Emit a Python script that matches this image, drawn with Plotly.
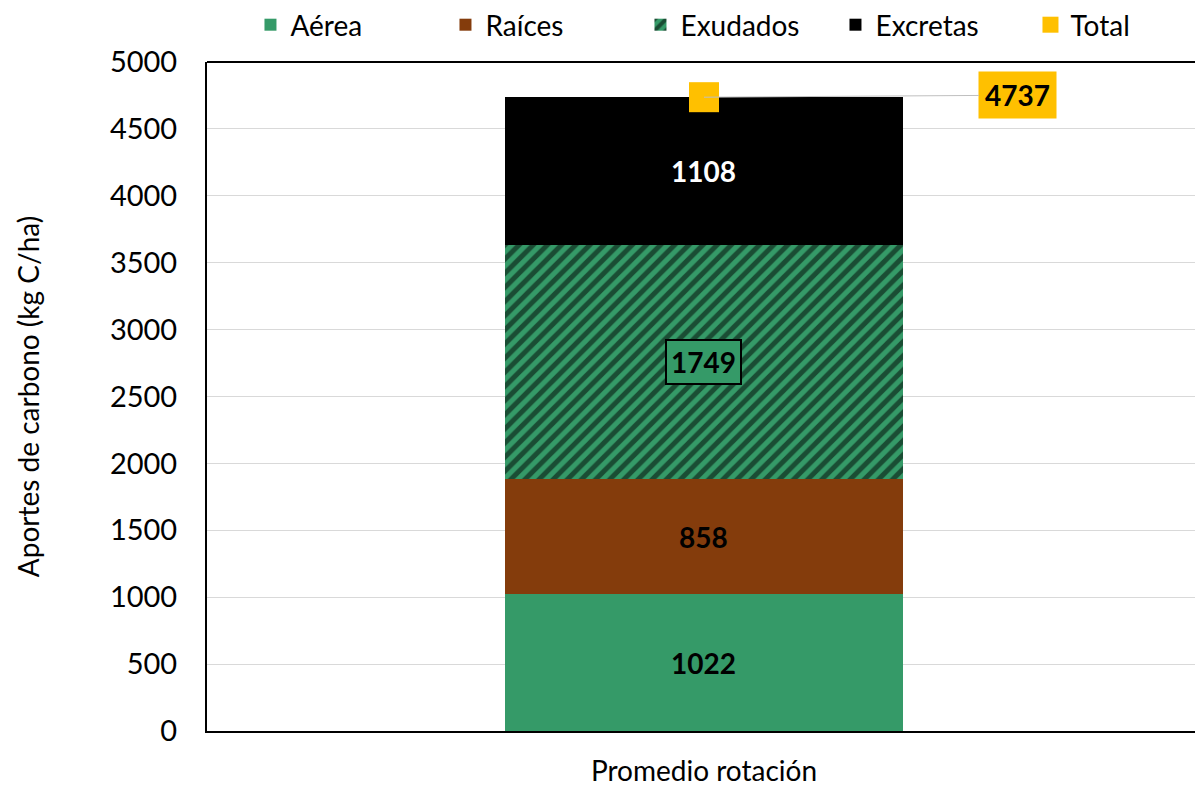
import plotly.graph_objects as go

# Carbon inputs per component, rotation average (kg C/ha)
categories = ["Promedio rotación"]
aerea = [1022]
raices = [858]
exudados = [1749]
excretas = [1108]
total = [a + r + e + x for a, r, e, x in zip(aerea, raices, exudados, excretas)]

GREEN = "#359A68"
BROWN = "#843C0C"
BLACK = "#000000"
YELLOW = "#FFC000"
FONT = "Lato"

fig = go.Figure()

fig.add_trace(go.Bar(name="Aérea", x=categories, y=aerea, marker=dict(color=GREEN, line=dict(width=0)), width=0.4))
fig.add_trace(go.Bar(name="Raíces", x=categories, y=raices, marker=dict(color=BROWN, line=dict(width=0)), width=0.4))
fig.add_trace(go.Bar(
    name="Exudados", x=categories, y=exudados, width=0.4,
    marker=dict(color=GREEN, line=dict(width=0),
                pattern=dict(shape="/", fgcolor=BLACK, bgcolor=GREEN, size=10, solidity=0.5, fillmode="overlay")),
))
fig.add_trace(go.Bar(name="Excretas", x=categories, y=excretas, marker=dict(color=BLACK, line=dict(width=0)), width=0.4))
fig.add_trace(go.Scatter(
    name="Total", x=categories, y=total, mode="markers",
    marker=dict(symbol="square", size=30, color=YELLOW, line=dict(width=0)),
))

# Segment value labels, centred in each stacked segment
annotations = []
base = 0
segments = [
    (aerea[0], BLACK, None, None),
    (raices[0], BLACK, None, None),
    (exudados[0], BLACK, GREEN, BLACK),
    (excretas[0], "white", None, None),
]
for val, fc, bg, border in segments:
    ann = dict(
        x=categories[0], y=base + val / 2, xref="x", yref="y",
        text=f"<b>{val}</b>", showarrow=False,
        font=dict(family=FONT, size=28, color=fc),
    )
    if bg:
        ann.update(bgcolor=bg, bordercolor=border, borderwidth=2, borderpad=4)
    annotations.append(ann)
    base += val

# Total label with leader line
annotations.append(dict(
    x=categories[0], y=total[0], xref="x", yref="y",
    text=f"<b>{total[0]}</b>", showarrow=True,
    arrowhead=0, arrowwidth=1, arrowcolor="#BFBFBF", standoff=0,
    ax=314, ay=-2,
    font=dict(family=FONT, size=28, color=BLACK),
    bgcolor=YELLOW, borderpad=6,
))

fig.update_layout(
    width=1195, height=789,
    margin=dict(l=207, r=0, t=62, b=58, autoexpand=False),
    barmode="stack",
    plot_bgcolor="white", paper_bgcolor="white",
    font=dict(family=FONT, size=28, color=BLACK),
    showlegend=True,
    legend=dict(
        orientation="h", x=0.044, xanchor="left", y=1.0, yanchor="top",
        yref="container", traceorder="normal",
        font=dict(family=FONT, size=28, color=BLACK),
        entrywidth=150, entrywidthmode="pixels",
    ),
    annotations=annotations,
    shapes=[dict(type="line", xref="paper", yref="paper", x0=0, x1=1.01, y0=1, y1=1,
                 line=dict(color=BLACK, width=2))],
)

fig.update_xaxes(
    range=[-0.5, 0.494], showline=True, linecolor=BLACK, linewidth=2,
    showgrid=False, ticks="", ticklabelstandoff=14,
    tickfont=dict(family=FONT, size=28, color=BLACK),
)
fig.update_yaxes(
    range=[0, 5000], dtick=500, showline=True, linecolor=BLACK, linewidth=2,
    showgrid=True, gridcolor="#D9D9D9", gridwidth=1, zeroline=False,
    ticks="", ticklabelstandoff=22,
    tickfont=dict(family=FONT, size=29, color=BLACK),
    title=dict(text="Aportes de carbono (kg C/ha)", font=dict(family=FONT, size=28, color=BLACK), standoff=62),
)

fig.write_html("out.html")
